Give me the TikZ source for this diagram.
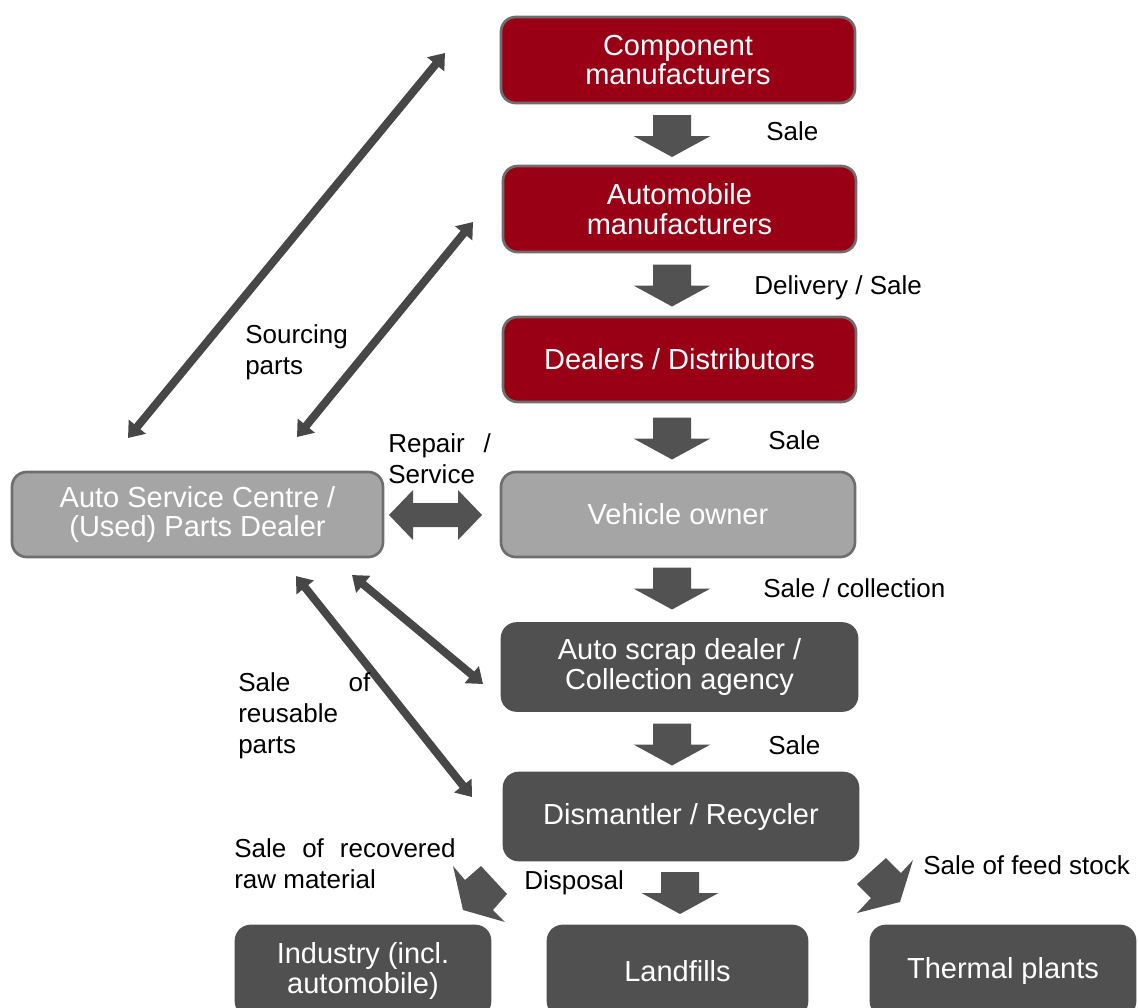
\documentclass[tikz,border=0pt]{standalone}
\usepackage{fontspec}
\setmainfont{Liberation Sans}
\usetikzlibrary{calc,arrows.meta}
\definecolor{redbox}{HTML}{9A0015}
\definecolor{boxborder}{HTML}{6E6E6E}
\definecolor{lightbox}{HTML}{A5A5A5}
\definecolor{darkbox}{HTML}{505050}
\definecolor{arrowgray}{HTML}{525252}
\definecolor{diaggray}{HTML}{474747}
\tikzset{
  box/.style={rounded corners=11pt, line width=2pt, align=center,
    font=\fontsize{21.75}{22}\selectfont, text=white, inner sep=0pt},
  redb/.style={box, fill=redbox, draw=boxborder},
  lightb/.style={box, fill=lightbox, draw=boxborder},
  darkb/.style={box, fill=darkbox, draw=darkbox},
  lbl/.style={font=\fontsize{19.5}{23.25}\selectfont, align=left, anchor=west, inner sep=0pt},
  diag/.style={line width=6pt, draw=diaggray,
    {Triangle[length=11pt,width=16pt]}-{Triangle[length=11pt,width=16pt]}},
  blockarrow/.pic={\fill[arrowgray] (-21,-19) -- (0,-19) -- (0,-38.5) -- (21,0)
      -- (0,38.5) -- (0,19) -- (-21,19) -- cycle;},
}
\begin{document}
\begin{tikzpicture}[x=0.75pt,y=-0.75pt]
\useasboundingbox (0,0) rectangle (1138,1007);
\clip (0,0) rectangle (1138,1007);

% boxes
\node[redb, minimum width=265.5pt, minimum height=64.5pt] (comp) at (678,60) {Component\\manufacturers};
\node[redb, minimum width=264.75pt, minimum height=64.5pt] (automfr) at (679.5,209) {Automobile\\manufacturers};
\node[redb, minimum width=264.75pt, minimum height=63.75pt] (dealers) at (679.5,359.5) {Dealers / Distributors};
\node[lightb, minimum width=265.5pt, minimum height=63.75pt] (owner) at (678,514.5) {Vehicle owner};
\node[lightb, minimum width=278.25pt, minimum height=63.75pt] (service) at (197.5,514.5) {Auto Service Centre /\\(Used) Parts Dealer};
\node[darkb, minimum width=266.25pt, minimum height=65.25pt] (scrap) at (679.5,667) {Auto scrap dealer /\\Collection agency};
\node[darkb, minimum width=265.5pt, minimum height=65.25pt] (dism) at (681,816.5) {Dismantler / Recycler};
\node[darkb, minimum width=190.5pt, minimum height=67.5pt] (industry) at (363,971) {Industry (incl.\\automobile)};
\node[darkb, minimum width=194.25pt, minimum height=67.5pt] (landfill) at (677.5,971) {Landfills};
\node[darkb, minimum width=198pt, minimum height=67.5pt] (thermal) at (1003,971) {Thermal plants};

% block arrows
\pic[rotate=-90] at (672,136) {blockarrow};
\pic[rotate=-90] at (672,285.5) {blockarrow};
\pic[rotate=-90] at (672,438.5) {blockarrow};
\pic[rotate=-90] at (672,588.5) {blockarrow};
\pic[rotate=-90] at (672,744.5) {blockarrow};
\pic[rotate=-90] at (680,893) {blockarrow};
% skewed arrows towards industry and thermal plants
\fill[arrowgray] (453,866) -- (465,880) -- (481,866) -- (507,894) -- (493,910)
  -- (505,922) -- (463,910) -- cycle;
\fill[arrowgray] (913,860) -- (901,873) -- (886,858) -- (857,884) -- (871,898)
  -- (857,913) -- (900,902) -- cycle;

% horizontal double arrow
\fill[arrowgray] (389,515) -- (413,490) -- (413,503) -- (458,503) -- (458,490) -- (482,515)
  -- (458,540) -- (458,527) -- (413,527) -- (413,540) -- cycle;

% diagonal connectors
\coordinate (d1a) at (128,438);
\coordinate (d1b) at (445,53);
\coordinate (d2a) at (297,437);
\coordinate (d2b) at (473,222);
\coordinate (d3a) at (296,576);
\coordinate (d3b) at (472,797);
\coordinate (d4a) at (352,575);
\coordinate (d4b) at (483,684);
\draw[diag] (d1a) -- (d1b);
\draw[diag] (d2a) -- (d2b);
\draw[diag] (d3a) -- (d3b);
\draw[diag] (d4a) -- (d4b);

% labels
\node[lbl] (l1) at (766,131) {Sale};
\node[lbl] (l2) at (754,288) {Delivery / Sale};
\node[lbl] (l3) at (768,440) {Sale};
\node[lbl] (l4) at (763,588) {Sale / collection};
\node[lbl] (l5) at (768,745) {Sale};
\node[lbl] (l6) at (245,352) {Sourcing\\parts};
\node[lbl] (l7) at (388,459) {\makebox[77pt][s]{Repair /}\\Service};
\node[lbl] (l8) at (238,716) {\makebox[99pt][s]{Sale of}\\reusable\\parts};
\node[lbl] (l9) at (234,864) {\makebox[166pt][s]{Sale of recovered}\\raw material};
\node[lbl] (l10) at (524,883) {Disposal};
\node[lbl] (l11) at (923,865) {Sale of feed stock};
\end{tikzpicture}
\end{document}
